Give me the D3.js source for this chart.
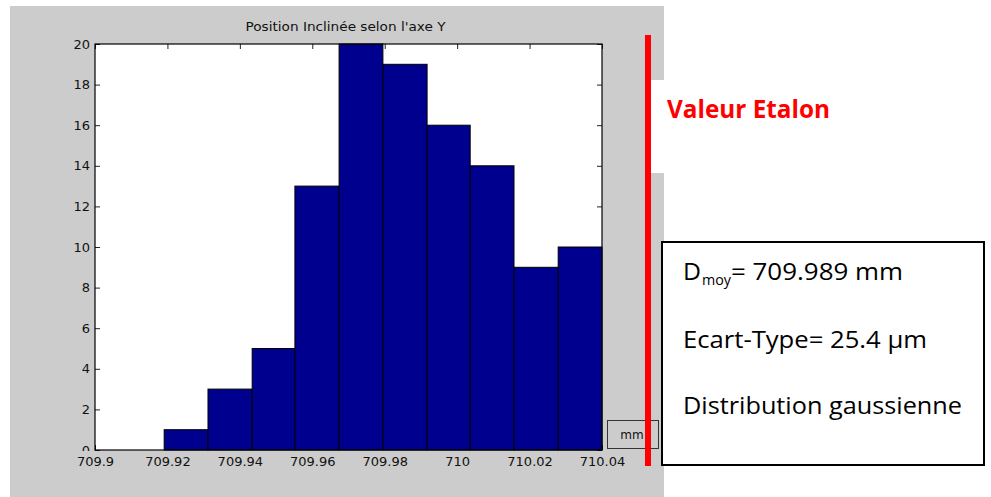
<!DOCTYPE html>
<html>
<head>
<meta charset="utf-8">
<script src="https://cdn.jsdelivr.net/npm/d3@7"></script>
<style>
  html, body { margin: 0; padding: 0; background: #ffffff; }
  svg { display: block; }
</style>
</head>
<body>
<svg id="chart" width="991" height="497"></svg>
<script>
// ---- data ----
const binEdges = [709.9191, 709.9312, 709.9434, 709.9552, 709.9674, 709.9795, 709.9917, 710.0036, 710.0157, 710.0279, 710.04];
const counts = [1, 3, 5, 13, 20, 19, 16, 14, 9, 10];
const xTicks = [709.9, 709.92, 709.94, 709.96, 709.98, 710, 710.02, 710.04];
const xTickLabels = ["709.9", "709.92", "709.94", "709.96", "709.98", "710", "710.02", "710.04"];
const yTicks = [0, 2, 4, 6, 8, 10, 12, 14, 16, 18, 20];
const title = "Position Inclinée selon l'axe Y";
const unitLabel = "mm";
const refLabel = "Valeur Etalon";
const statsLines = ["= 709.989 mm", "Ecart-Type= 25.4 µm", "Distribution gaussienne"];

// ---- layout ----
const svg = d3.select("#chart");
const plot = { left: 95, right: 602, top: 44, bottom: 450 };
const x = d3.scaleLinear().domain([709.9, 710.04]).range([plot.left, plot.right]);
const y = d3.scaleLinear().domain([0, 20]).range([plot.bottom, plot.top]);
const gray = "#cccccc";

// figure background
svg.append("rect").attr("x", 10).attr("y", 6).attr("width", 654).attr("height", 491).attr("fill", gray);
// white notch (behind the reference label)
svg.append("rect").attr("x", 651).attr("y", 80).attr("width", 14).attr("height", 93).attr("fill", "#ffffff");

// plot area
svg.append("rect").attr("x", plot.left).attr("y", plot.top)
  .attr("width", plot.right - plot.left).attr("height", plot.bottom - plot.top).attr("fill", "#ffffff");

const defs = svg.append("defs");
defs.append("clipPath").attr("id", "yclip").append("rect")
  .attr("x", -100).attr("y", 0).attr("width", 110).attr("height", 451);

const fontTick = "'DejaVu Sans', sans-serif";

// axes
const gBottom = svg.append("g").attr("transform", `translate(0,${plot.bottom})`)
  .call(d3.axisBottom(x).tickValues(xTicks).tickFormat((d, i) => xTickLabels[i]).tickSize(-5).tickPadding(7));
const gTop = svg.append("g").attr("transform", `translate(0,${plot.top})`)
  .call(d3.axisTop(x).tickValues(xTicks).tickFormat("").tickSize(-5));
const gLeft = svg.append("g").attr("transform", `translate(${plot.left},0)`).attr("clip-path", "url(#yclip)")
  .call(d3.axisLeft(y).tickValues(yTicks).tickFormat(d3.format("d")).tickSize(-5).tickPadding(5));
const gRight = svg.append("g").attr("transform", `translate(${plot.right},0)`)
  .call(d3.axisRight(y).tickValues(yTicks).tickFormat("").tickSize(-5));

[gBottom, gTop, gLeft, gRight].forEach(g => {
  g.select(".domain").remove();
  g.selectAll(".tick line").attr("stroke", "#222").attr("stroke-width", 1);
  g.selectAll(".tick text").attr("fill", "#111").attr("font-family", fontTick).attr("font-size", 13);
});

// bars
svg.append("g").selectAll("rect").data(counts).join("rect")
  .attr("x", (d, i) => x(binEdges[i]))
  .attr("width", (d, i) => x(binEdges[i + 1]) - x(binEdges[i]))
  .attr("y", d => y(d))
  .attr("height", d => y(0) - y(d))
  .attr("fill", "#00008f")
  .attr("stroke", "#000000")
  .attr("stroke-width", 1);

// frame
svg.append("rect").attr("x", plot.left).attr("y", plot.top)
  .attr("width", plot.right - plot.left).attr("height", plot.bottom - plot.top)
  .attr("fill", "none").attr("stroke", "#000").attr("stroke-width", 1.2);

// title
svg.append("text").attr("x", (plot.left + plot.right) / 2 - 3).attr("y", 31)
  .attr("text-anchor", "middle").attr("font-family", fontTick).attr("font-size", 13)
  .attr("fill", "#111").attr("textLength", 200).attr("lengthAdjust", "spacingAndGlyphs")
  .text(title);

// unit box
svg.append("rect").attr("x", 607.5).attr("y", 420.5).attr("width", 51).attr("height", 28)
  .attr("fill", "none").attr("stroke", "#333").attr("stroke-width", 1);
svg.append("text").attr("x", 632).attr("y", 439).attr("text-anchor", "middle")
  .attr("font-family", fontTick).attr("font-size", 12).attr("fill", "#111").text(unitLabel);

// reference red line
svg.append("line").attr("x1", 648).attr("x2", 648).attr("y1", 35).attr("y2", 466)
  .attr("stroke", "#ff0000").attr("stroke-width", 6);

const fontCal = "'Open Sans', 'Lato', sans-serif";
svg.append("text").attr("x", 667).attr("y", 118)
  .attr("font-family", fontCal).attr("font-weight", "bold").attr("font-size", 25)
  .attr("fill", "#ff0000").attr("textLength", 163).attr("lengthAdjust", "spacingAndGlyphs")
  .text(refLabel);

// stats box
svg.append("rect").attr("x", 662).attr("y", 242).attr("width", 322).attr("height", 223)
  .attr("fill", "#ffffff").attr("stroke", "#000").attr("stroke-width", 2);

const t1 = svg.append("g").attr("font-family", fontCal).attr("fill", "#000");
t1.append("text").attr("x", 683).attr("y", 280).attr("font-size", 23)
  .attr("textLength", 18).attr("lengthAdjust", "spacingAndGlyphs").text("D");
t1.append("text").attr("x", 702).attr("y", 285).attr("font-size", 14)
  .attr("textLength", 29).attr("lengthAdjust", "spacingAndGlyphs").text("moy");
t1.append("text").attr("x", 731).attr("y", 280).attr("font-size", 23)
  .attr("textLength", 172).attr("lengthAdjust", "spacingAndGlyphs").text(statsLines[0]);
t1.append("text").attr("x", 683).attr("y", 348).attr("font-size", 23)
  .attr("textLength", 244).attr("lengthAdjust", "spacingAndGlyphs").text(statsLines[1]);
t1.append("text").attr("x", 683).attr("y", 414).attr("font-size", 23)
  .attr("textLength", 279).attr("lengthAdjust", "spacingAndGlyphs").text(statsLines[2]);
</script>
</body>
</html>
